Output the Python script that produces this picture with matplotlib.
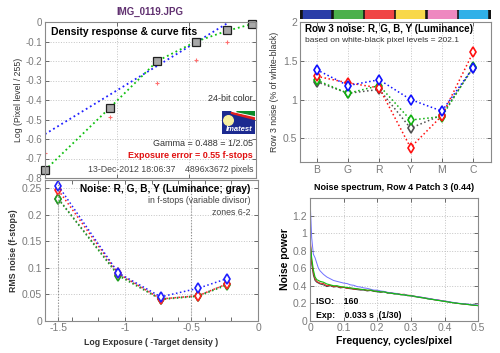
import matplotlib
matplotlib.use("Agg")
import matplotlib.pyplot as plt
from matplotlib.patches import Rectangle, Circle, Polygon

plt.rcParams['font.family'] = ['Liberation Sans', 'DejaVu Sans']

# ---------------- data ----------------
# Density response (top-left)
dens_x = [-1.5, -1.05, -0.72, -0.45, -0.235, -0.06]
dens_y = [-0.76, -0.44, -0.20, -0.10, -0.04, -0.01]
red_x = [-1.5, -1.05, -0.72, -0.45, -0.235]
red_y = [-0.67, -0.485, -0.315, -0.195, -0.10]
fit_lin_x = [-1.5, -0.22]
fit_lin_y = [-0.575, 0.0]
fit_curve_x = [-1.5, -1.05, -0.72, -0.45, -0.235, -0.06, -0.035]
fit_curve_y = [-0.76, -0.44, -0.20, -0.10, -0.045, -0.01, -0.005]

# Row 3 noise (top-right)
patch_labels = ['B', 'G', 'R', 'Y', 'M', 'C']
patch_colors = ['#2a3ea8', '#4cb04c', '#f04545', '#f8d84a', '#ee88c0', '#30b0e8']
row3_blue = [1.385, 1.18, 1.255, 1.00, 0.85, 1.41]
row3_green = [1.25, 1.08, 1.18, 0.735, 0.78, 1.42]
row3_red = [1.30, 1.215, 1.15, 0.38, 0.79, 1.61]
row3_gray = [1.23, 1.08, 1.13, 0.63, 0.80, 1.41]

# Noise in f-stops (bottom-left)
zone_x = [-1.5, -1.05, -0.73, -0.45, -0.235]
fst_blue = [0.254, 0.090, 0.045, 0.061, 0.079]
fst_red = [0.246, 0.089, 0.041, 0.047, 0.069]
fst_green = [0.229, 0.085, 0.040, 0.046, 0.067]
fst_gray = [0.230, 0.087, 0.041, 0.047, 0.069]

# Noise spectrum (bottom-right)
freq = [0.0, 0.005, 0.01, 0.015, 0.02, 0.025] + [round(0.03 + 0.01 * i, 2) for i in range(48)]
spec_red = [1.00, 0.68, 0.55, 0.48, 0.45, 0.44,
            0.43, 0.425, 0.40, 0.405, 0.39, 0.395, 0.38, 0.385, 0.37, 0.375,
            0.36, 0.365, 0.355, 0.358, 0.345, 0.35, 0.34, 0.343, 0.33, 0.335,
            0.32, 0.322, 0.31, 0.312, 0.30, 0.303, 0.29, 0.29, 0.28, 0.275,
            0.268, 0.262, 0.255, 0.25, 0.24, 0.238, 0.23, 0.225, 0.218, 0.21,
            0.205, 0.198, 0.195, 0.19, 0.187, 0.182, 0.178, 0.175]
spec_green = [0.90, 0.72, 0.58, 0.50, 0.47, 0.46,
              0.45, 0.44, 0.42, 0.41, 0.40, 0.40, 0.39, 0.385, 0.38, 0.375,
              0.37, 0.365, 0.36, 0.355, 0.35, 0.35, 0.34, 0.335, 0.33, 0.33,
              0.32, 0.315, 0.31, 0.305, 0.30, 0.295, 0.29, 0.285, 0.28, 0.27,
              0.265, 0.26, 0.25, 0.245, 0.24, 0.232, 0.228, 0.22, 0.215, 0.208,
              0.203, 0.198, 0.193, 0.19, 0.185, 0.18, 0.176, 0.172]
spec_gray = [0.95, 0.65, 0.52, 0.46, 0.44, 0.43,
             0.42, 0.41, 0.39, 0.40, 0.385, 0.39, 0.375, 0.38, 0.37, 0.365,
             0.36, 0.355, 0.35, 0.35, 0.34, 0.345, 0.335, 0.33, 0.325, 0.33,
             0.315, 0.315, 0.305, 0.305, 0.295, 0.295, 0.285, 0.283, 0.275, 0.27,
             0.263, 0.258, 0.25, 0.245, 0.238, 0.233, 0.226, 0.22, 0.215, 0.208,
             0.202, 0.197, 0.192, 0.188, 0.184, 0.18, 0.176, 0.172]
spec_blue = [1.40, 0.95, 0.76, 0.72, 0.66, 0.60,
             0.57, 0.53, 0.50, 0.48, 0.46, 0.45, 0.44, 0.43, 0.425, 0.41,
             0.405, 0.39, 0.385, 0.375, 0.37, 0.36, 0.35, 0.35, 0.34, 0.335,
             0.325, 0.32, 0.315, 0.31, 0.30, 0.30, 0.29, 0.288, 0.28, 0.275,
             0.27, 0.262, 0.257, 0.25, 0.243, 0.238, 0.23, 0.225, 0.22, 0.212,
             0.207, 0.20, 0.197, 0.193, 0.19, 0.185, 0.182, 0.178]

# ---------------- figure ----------------
W, H = 500, 353
fig = plt.figure(figsize=(W / 100, H / 100), dpi=100)
fig.patch.set_facecolor('white')


def rect(l, t, r, b):
    return [l / W, 1 - b / H, (r - l) / W, (b - t) / H]


def fx(px):
    return px / W


def fy(py):
    return 1 - py / H


TICKC = '#7a7a7a'
GRIDC = '#c4c4c4'


def style(ax, fs=7):
    for s in ax.spines.values():
        s.set_color('#8a8a8a')
        s.set_linewidth(0.8)
    ax.tick_params(direction='in', length=3, width=0.6, colors='#555555',
                   labelcolor=TICKC, labelsize=fs, top=True, right=True, pad=2)
    ax.grid(True, linestyle=':', color=GRIDC, linewidth=0.7)
    ax.set_axisbelow(True)


# ---- top-left: density response ----
ax1 = fig.add_axes(rect(45, 22, 256, 178))
style(ax1)
ax1.plot(fit_lin_x, fit_lin_y, linestyle=':', color='#2020ff', linewidth=1.3)
ax1.plot(fit_curve_x, fit_curve_y, linestyle=':', color='#10c010', linewidth=1.3)
ax1.plot(red_x, red_y, linestyle='none', marker='+', color='#ff7070', markersize=3, mew=0.8)
ax1.plot(dens_x, dens_y, linestyle='none', marker='s', markersize=5.5,
         markerfacecolor='#a8a8a8', markeredgecolor='#202020', mew=0.9, clip_on=False)
ax1.set_xlim(-1.5, -0.035)
ax1.set_ylim(-0.8, 0)
ax1.set_xticks([-1.5, -1.0, -0.5])
ax1.set_xticklabels([])
ax1.set_yticks([0, -0.1, -0.2, -0.3, -0.4, -0.5, -0.6, -0.7, -0.8])
ax1.set_yticklabels(['0', '-0.1', '-0.2', '-0.3', '-0.4', '-0.5', '-0.6', '-0.7', '-0.8'])
ax1.set_ylabel('Log (Pixel level / 255)', fontsize=6.3, color='#333333', labelpad=2)

fig.text(fx(150), fy(12), 'IMG_0119.JPG', color='#603070', fontsize=7, fontweight='bold',
         ha='center', va='center')
fig.text(fx(51), fy(32), 'Density response & curve fits', fontsize=7.5, fontweight='bold',
         ha='left', va='center')
fig.text(fx(253), fy(99), '24-bit color', fontsize=6.5, color='#333333', ha='right', va='center')
fig.text(fx(253), fy(144), 'Gamma = 0.488 = 1/2.05', fontsize=6.5, color='#333333',
         ha='right', va='center')
fig.text(fx(253), fy(156), 'Exposure error = 0.55 f-stops', fontsize=6.5, color='#e01010',
         fontweight='bold', ha='right', va='center')
fig.text(fx(253), fy(169), '13-Dec-2012 18:06:37    4896x3672 pixels', fontsize=6.3,
         color='#444444', ha='right', va='center')

# Imatest logo
axl = fig.add_axes(rect(222, 111, 255, 134))
axl.set_xlim(0, 33)
axl.set_ylim(0, 23)
axl.axis('off')
axl.add_patch(Rectangle((0, 0), 33, 23, color='#1c2a90'))
axl.add_patch(Polygon([[9, 23], [33, 23], [33, 17]], color='#ffffff'))
axl.add_patch(Polygon([[14, 23], [33, 23], [33, 19]], color='#0a8a2a'))
axl.add_patch(Polygon([[9, 21.5], [33, 16], [33, 14.5], [10, 20.5]], color='#e02020'))
axl.add_patch(Circle((6.5, 13.5), 4.8, color='#f8f0a0'))
axl.text(17.5, 4.5, 'Imatest', color='white', fontsize=5.5, fontweight='bold',
         style='italic', ha='center', va='center')

# ---- top-right: row 3 noise ----
axc = fig.add_axes(rect(300, 10, 490.7, 19))
axc.set_xlim(0.47, 6.56)
axc.set_ylim(0, 1)
axc.axis('off')
axc.add_patch(Rectangle((0.47, 0), 6.09, 1, color='#151515'))
for i, c in enumerate(patch_colors):
    axc.add_patch(Rectangle((i + 1 - 0.45, 0), 0.89, 1, color=c))

ax2 = fig.add_axes(rect(300, 22, 490.7, 162.3))
style(ax2, fs=7.5)
xs = list(range(1, len(patch_labels) + 1))
for vals, col in [(row3_gray, '#505050'), (row3_green, '#10b010'),
                  (row3_red, '#ff1010'), (row3_blue, '#1010ff')]:
    ax2.plot(xs, vals, linestyle=':', color=col, linewidth=1.1, marker='d',
             markersize=5, markerfacecolor='white', markeredgecolor=col, mew=1.2)
ax2.set_xlim(0.47, 6.56)
ax2.set_ylim(0.19, 2)
ax2.set_xticks(xs)
ax2.set_xticklabels(patch_labels)
ax2.set_yticks([0.5, 1, 1.5, 2])
ax2.set_yticklabels(['0.5', '1', '1.5', '2'])
ax2.set_ylabel('Row 3 noise (% of white-black)', fontsize=6.3, color='#333333', labelpad=3)
fig.text(fx(305), fy(29), 'Row 3 noise: R, G, B, Y (Luminance)', fontsize=7, fontweight='bold',
         ha='left', va='center')
fig.text(fx(305), fy(41), 'based on white-black pixel levels = 202.1', fontsize=6,
         color='#333333', ha='left', va='center')

# ---- bottom-left: noise in f-stops ----
ax3 = fig.add_axes(rect(45, 180, 258, 320.7))
style(ax3)
for vals, col in [(fst_gray, '#606060'), (fst_green, '#20a020'),
                  (fst_red, '#ff2020'), (fst_blue, '#2020ff')]:
    ax3.plot(zone_x, vals, linestyle=':', color=col, linewidth=1.1, marker='d',
             markersize=5, markerfacecolor='white', markeredgecolor=col, mew=1.2)
ax3.axvline(-1.5, linestyle=':', color='#909090', linewidth=0.8)
ax3.axvline(-0.5, linestyle=':', color='#909090', linewidth=0.8)
ax3.set_xlim(-1.6, 0)
ax3.set_ylim(0, 0.265)
ax3.set_xticks([-1.5, -1.0, -0.5, 0])
ax3.set_xticklabels(['-1.5', '-1', '-0.5', '0'])
ax3.set_xticks([-1.4, -1.2, -0.8, -0.6, -0.4, -0.2], minor=True)
ax3.tick_params(which='minor', direction='in', length=3, width=0.6, colors='#555555',
                top=True)
ax3.set_yticks([0, 0.05, 0.1, 0.15, 0.2, 0.25])
ax3.set_yticklabels(['0', '0.05', '0.1', '0.15', '0.2', '0.25'])
ax3.tick_params(axis='both', labelsize=7.5)
ax3.set_ylabel('RMS noise (f-stops)', fontsize=6.3, fontweight='bold', color='#333333',
               labelpad=3)
ax3.set_xlabel('Log Exposure ( -Target density )', fontsize=6.3, fontweight='bold',
               color='#333333', labelpad=3)
fig.text(fx(250), fy(189), 'Noise: R, G, B, Y (Luminance; gray)', fontsize=7.3,
         fontweight='bold', ha='right', va='center')
fig.text(fx(250), fy(201), 'in f-stops (variable divisor)', fontsize=6.3, color='#444444',
         ha='right', va='center')
fig.text(fx(250), fy(212), 'zones 6-2', fontsize=6.3, color='#444444', ha='right', va='center')

# ---- bottom-right: noise spectrum ----
ax4 = fig.add_axes(rect(310, 198.3, 478.3, 320.7))
style(ax4, fs=7.5)
ax4.plot(freq, spec_gray, color='#404040', linewidth=0.7)
ax4.plot(freq, spec_red, color='#e02020', linewidth=0.7)
ax4.plot(freq, spec_blue, color='#7070ff', linewidth=0.7)
ax4.plot(freq, spec_green, color='#10c010', linewidth=0.8)
ax4.set_xlim(0, 0.5)
ax4.set_ylim(0, 1.4)
ax4.set_xticks([0, 0.1, 0.2, 0.3, 0.4, 0.5])
ax4.set_xticklabels(['0', '0.1', '0.2', '0.3', '0.4', '0.5'])
ax4.set_yticks([0, 0.2, 0.4, 0.6, 0.8, 1.0, 1.2])
ax4.set_yticklabels(['0', '0.2', '0.4', '0.6', '0.8', '1', '1.2'])
ax4.set_ylabel('Noise power', fontsize=7.5, fontweight='bold', labelpad=2)
ax4.set_xlabel('Frequency, cycles/pixel', fontsize=7.5, fontweight='bold', labelpad=2)
fig.text(fx(394), fy(188), 'Noise spectrum, Row 4 Patch 3 (0.44)', fontsize=6.5,
         fontweight='bold', ha='center', va='center')
fig.text(fx(316), fy(302), 'ISO:    160', fontsize=6.3, fontweight='bold', ha='left', va='center')
fig.text(fx(316), fy(315), 'Exp:    0.033 s  (1/30)', fontsize=6.3, fontweight='bold',
         ha='left', va='center')

fig.savefig('out.png', dpi=100, facecolor='white')
